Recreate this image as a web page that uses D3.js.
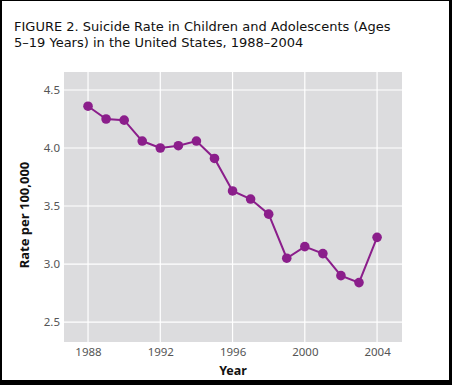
<!DOCTYPE html>
<html>
<head>
<meta charset="utf-8">
<script src="https://cdn.jsdelivr.net/npm/d3@7"></script>
<style>
  body { margin: 0; background: #000; }
  svg { display: block; }
  .tick text { font-family: "Noto Sans", sans-serif; font-size: 11.5px; fill: #555; }
</style>
</head>
<body>
<div id="chart"></div>
<script>
// data
var years = [1988, 1989, 1990, 1991, 1992, 1993, 1994, 1995, 1996, 1997, 1998, 1999, 2000, 2001, 2002, 2003, 2004];
var rates = [4.36, 4.25, 4.24, 4.06, 4.00, 4.02, 4.06, 3.91, 3.63, 3.56, 3.43, 3.05, 3.15, 3.09, 2.90, 2.84, 3.23];
var xTicks = [1988, 1992, 1996, 2000, 2004];
var yTicks = [2.5, 3.0, 3.5, 4.0, 4.5];
var titleLines = ["FIGURE 2. Suicide Rate in Children and Adolescents (Ages", "5\u201319 Years) in the United States, 1988\u20132004"];

function drawChart(){
    var width = 452, height = 385;

    var svg = d3.select('#chart')
        .append('svg')
        .attr('width', width)
        .attr('height', height);

    //black frame with white page
    svg.append('rect').attr('width', width).attr('height', height).attr('fill', '#000');
    svg.append('rect').attr('x', 2).attr('y', 1).attr('width', 447).attr('height', 379).attr('fill', '#fff');

    //title (DejaVu keeps the two lines from touching at 16px leading)
    svg.selectAll('.title')
        .data(titleLines)
        .enter()
        .append('text')
        .attr('class', 'title')
        .attr('x', 14)
        .attr('y', function(d, i){ return 31 + i * 16; })
        .attr('font-family', '"DejaVu Sans", sans-serif')
        .attr('font-size', 13)
        .attr('fill', '#111')
        .text(function(d){ return d; });

    var plot = {left: 64, right: 402, top: 72, bottom: 342};

    var x = d3.scaleLinear()
        .domain([1986.67, 2005.38])
        .range([plot.left, plot.right]);

    var y = d3.scaleLinear()
        .domain([2.328, 4.655])
        .range([plot.bottom, plot.top]);

    //plot background
    svg.append('rect')
        .attr('x', plot.left)
        .attr('y', plot.top)
        .attr('width', plot.right - plot.left)
        .attr('height', plot.bottom - plot.top)
        .attr('fill', '#dcdcde');

    //gridlines
    svg.append('g')
        .selectAll('line')
        .data(xTicks)
        .enter()
        .append('line')
        .attr('x1', function(d){ return x(d); })
        .attr('x2', function(d){ return x(d); })
        .attr('y1', plot.top)
        .attr('y2', plot.bottom)
        .attr('stroke', '#fff')
        .attr('stroke-width', 1.2);

    svg.append('g')
        .selectAll('line')
        .data(yTicks)
        .enter()
        .append('line')
        .attr('x1', plot.left)
        .attr('x2', plot.right)
        .attr('y1', function(d){ return y(d); })
        .attr('y2', function(d){ return y(d); })
        .attr('stroke', '#fff')
        .attr('stroke-width', 1.2);

    //axes (labels only)
    var xAxis = svg.append('g')
        .attr('transform', 'translate(0,' + plot.bottom + ')')
        .call(d3.axisBottom(x).tickValues(xTicks).tickFormat(d3.format('d')).tickSize(0).tickPadding(6));
    xAxis.select('.domain').remove();

    var yAxis = svg.append('g')
        .attr('transform', 'translate(' + plot.left + ',0)')
        .call(d3.axisLeft(y).tickValues(yTicks).tickFormat(d3.format('.1f')).tickSize(0).tickPadding(4));
    yAxis.select('.domain').remove();

    //axis titles
    svg.append('text')
        .attr('x', 233)
        .attr('y', 375)
        .attr('text-anchor', 'middle')
        .attr('font-family', '"Noto Sans", sans-serif')
        .attr('font-weight', 'bold')
        .attr('font-size', 12.5)
        .attr('fill', '#111')
        .text('Year');

    svg.append('text')
        .attr('transform', 'translate(29,215) rotate(-90)')
        .attr('text-anchor', 'middle')
        .attr('font-family', '"Noto Sans", sans-serif')
        .attr('font-weight', 'bold')
        .attr('font-size', 13)
        .attr('fill', '#111')
        .text('Rate per 100,000');

    //line
    var line = d3.line()
        .x(function(d, i){ return x(years[i]); })
        .y(function(d){ return y(d); });

    svg.append('path')
        .datum(rates)
        .attr('d', line)
        .attr('fill', 'none')
        .attr('stroke', '#8b1e8b')
        .attr('stroke-width', 2);

    svg.append('g')
        .selectAll('circle')
        .data(rates)
        .enter()
        .append('circle')
        .attr('cx', function(d, i){ return x(years[i]); })
        .attr('cy', function(d){ return y(d); })
        .attr('r', 4.8)
        .attr('fill', '#8b1e8b');
}

window.onload = drawChart;
</script>
</body>
</html>
